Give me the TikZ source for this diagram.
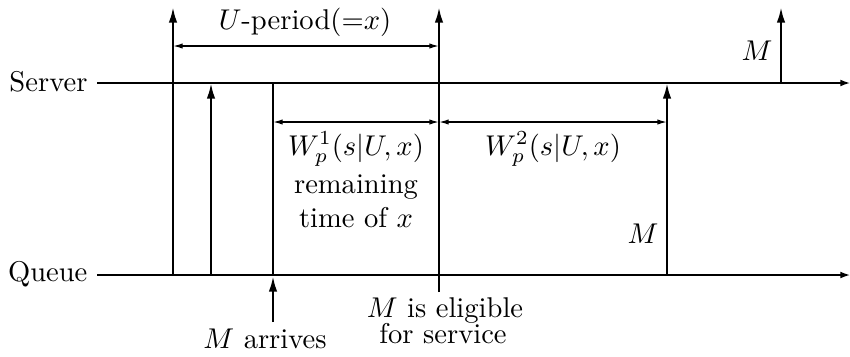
\documentclass[tikz,border=0pt]{standalone}
\usetikzlibrary{arrows.meta}
\begin{document}
\begin{tikzpicture}[x=0.35pt,y=-0.35pt,
  axis/.style={line width=0.5pt,-{Latex[length=3.4pt,width=2.4pt]}},
  evt/.style={line width=0.85pt,-{Latex[length=5.5pt,width=3pt]}},
  thinline/.style={line width=0.55pt},
  span/.style={line width=0.5pt,{Latex[length=3.4pt,width=1.9pt]}-{Latex[length=3.4pt,width=1.9pt]}},
  lbl/.style={inner sep=0pt,anchor=base}]
\useasboundingbox (0,0) rectangle (850,356);

% axis labels
\node[lbl,anchor=base east] (server) at (88,91) {Server};
\node[lbl,anchor=base east] (queue) at (88,281) {Queue};

% axes
\coordinate (s0) at (97,83);  \coordinate (s1) at (850,83);
\coordinate (q0) at (97,275); \coordinate (q1) at (850,275);
\draw[axis] (s0) -- (s1);
\draw[axis] (q0) -- (q1);

% event points
\coordinate (a0) at (173,275); \coordinate (a1) at (173,7);
\coordinate (b0) at (211,275); \coordinate (b1) at (211,83);
\coordinate (c0) at (273,275); \coordinate (c1) at (273,83);
\coordinate (c2) at (273,322); \coordinate (c3) at (273,276);
\coordinate (d0) at (439,292); \coordinate (d1) at (439,7);
\coordinate (e0) at (667,275); \coordinate (e1) at (667,83);
\coordinate (f0) at (781,83);  \coordinate (f1) at (781,7);

\draw[evt] (a0) -- (a1);
\draw[evt] (b0) -- (b1);
\draw[thinline] (c0) -- (c1);
\draw[evt] (c2) -- (c3);
\draw[evt] (d0) -- (d1);
\draw[evt] (e0) -- (e1);
\draw[evt] (f0) -- (f1);

% spans
\coordinate (u0) at (173,46); \coordinate (u1) at (439,46);
\coordinate (w0) at (273,122); \coordinate (w1) at (439,122); \coordinate (w2) at (667,122);
\draw[span] (u0) -- (u1);
\draw[span] (w0) -- (w1);
\draw[span] (w1) -- (w2);

% labels
\node[lbl] (uper) at (305,29) {$U$-period$({=}x)$};
\node[lbl] (mtop) at (757,60) {$M$};
\node[lbl] (wone) at (356,155) {$W_p^1(s|U,x)$};
\node[lbl] (rem) at (356,193) {remaining};
\node[lbl] (tox) at (356,227) {time of $x$};
\node[lbl] (wtwo) at (553,155) {$W_p^2(s|U,x)$};
\node[lbl] (mbot) at (643,243) {$M$};
\node[lbl] (marr) at (265,348) {$M$ arrives};
\node[lbl] (elig) at (445,317) {$M$ is eligible};
\node[lbl] (serv) at (443,343) {for service};
\end{tikzpicture}
\end{document}
